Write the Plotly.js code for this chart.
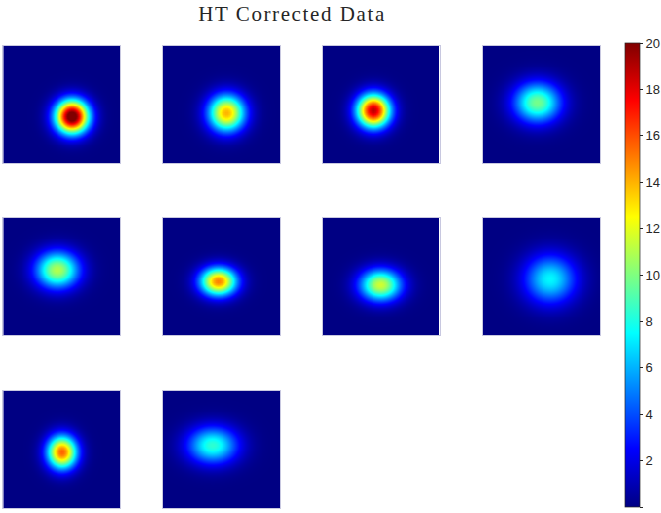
<!DOCTYPE html>
<html><head><meta charset="utf-8">
<script src="https://cdn.plot.ly/plotly-3.0.1.min.js"></script>
<style>html,body{margin:0;padding:0;background:#fff}#chart{width:661px;height:513px}
.gtitle{letter-spacing:1.6px}</style>
</head><body><div id="chart"></div>
<script>
// Per-panel blob parameters (fractions of panel width/height, y from top)
const panelNames = ['1','2','3','4','5','6','7','8','9','10'];
const peakValues = [21.5, 14.0, 18.8, 9.8, 11.0, 15.0, 11.6, 7.4, 15.6, 8.4];
const centerX    = [0.585, 0.54, 0.43, 0.46, 0.46, 0.47, 0.49, 0.57, 0.50, 0.42];
const centerY    = [0.60, 0.57, 0.55, 0.48, 0.44, 0.54, 0.57, 0.52, 0.52, 0.46];
const sigmaX     = [0.100, 0.110, 0.100, 0.140, 0.130, 0.110, 0.125, 0.155, 0.090, 0.150];
const sigmaY     = [0.100, 0.110, 0.100, 0.120, 0.110, 0.085, 0.095, 0.145, 0.100, 0.110];
const cbTicks    = [0,2,4,6,8,10,12,14,16,18,20];

const W = 661, H = 513;
const colX = [[3.3,120],[163,280],[323,439.5],[483,600]];
const rowY = [[46,163],[218,335],[391,508]];
const N = 61;
const grid = Array.from({length:N},(_,i)=>i/(N-1));

const jet = [[0,'rgb(0,0,131)'],[0.125,'rgb(0,0,255)'],[0.375,'rgb(0,255,255)'],[0.625,'rgb(255,255,0)'],[0.875,'rgb(255,0,0)'],[1,'rgb(128,0,0)']];

const data = [];
const layout = {
  width: W, height: H, margin:{l:0,r:0,t:0,b:0,autoexpand:false},
  paper_bgcolor:'#fff', plot_bgcolor:'#fff', showlegend:false,
  title:{text:'HT Corrected Data', x:292/W, xanchor:'center', y:1-14/H, yanchor:'middle', automargin:false,
         font:{family:'Liberation Serif, DejaVu Serif, serif', size:21, color:'#262626'}}
};
panelNames.forEach((nm,k)=>{
  const r = Math.floor(k/4), c = k%4;
  const z = grid.map(yy=>grid.map(xx=>peakValues[k]*Math.exp(-((xx-centerX[k])**2)/(2*sigmaX[k]**2)-((yy-centerY[k])**2)/(2*sigmaY[k]**2))));
  const ax = k===0?'':String(k+1);
  data.push({type:'heatmap', x:grid, y:grid, z:z, xaxis:'x'+ax, yaxis:'y'+ax,
    colorscale:jet, zmin:0, zmax:20, zsmooth:'best', name:nm, showscale:k===0,
    colorbar: k===0 ? {x:625/W, xanchor:'left', y:1-275/H, yanchor:'middle', len:464, lenmode:'pixels',
      thickness:15, thicknessmode:'pixels', outlinecolor:'#262626', outlinewidth:0.7, xpad:0, ypad:0,
      tickvals:cbTicks, ticktext:cbTicks.map(String), ticks:'outside', ticklen:3, tickcolor:'#262626',
      tickfont:{family:'Liberation Sans, Arial, sans-serif', size:13, color:'#262626'}} : undefined});
  const axBase = {showgrid:false, zeroline:false, showticklabels:false, ticks:'', showline:true, mirror:true, linecolor:'#c8c8e0', linewidth:1};
  layout['xaxis'+ax] = Object.assign({}, axBase, {domain:[colX[c][0]/W, colX[c][1]/W], range:[0,1], anchor:'y'+ax});
  layout['yaxis'+ax] = Object.assign({}, axBase, {domain:[1-rowY[r][1]/H, 1-rowY[r][0]/H], range:[1,0], anchor:'x'+ax});
});
Plotly.newPlot('chart', data, layout, {staticPlot:true, displayModeBar:false});
</script></body></html>
